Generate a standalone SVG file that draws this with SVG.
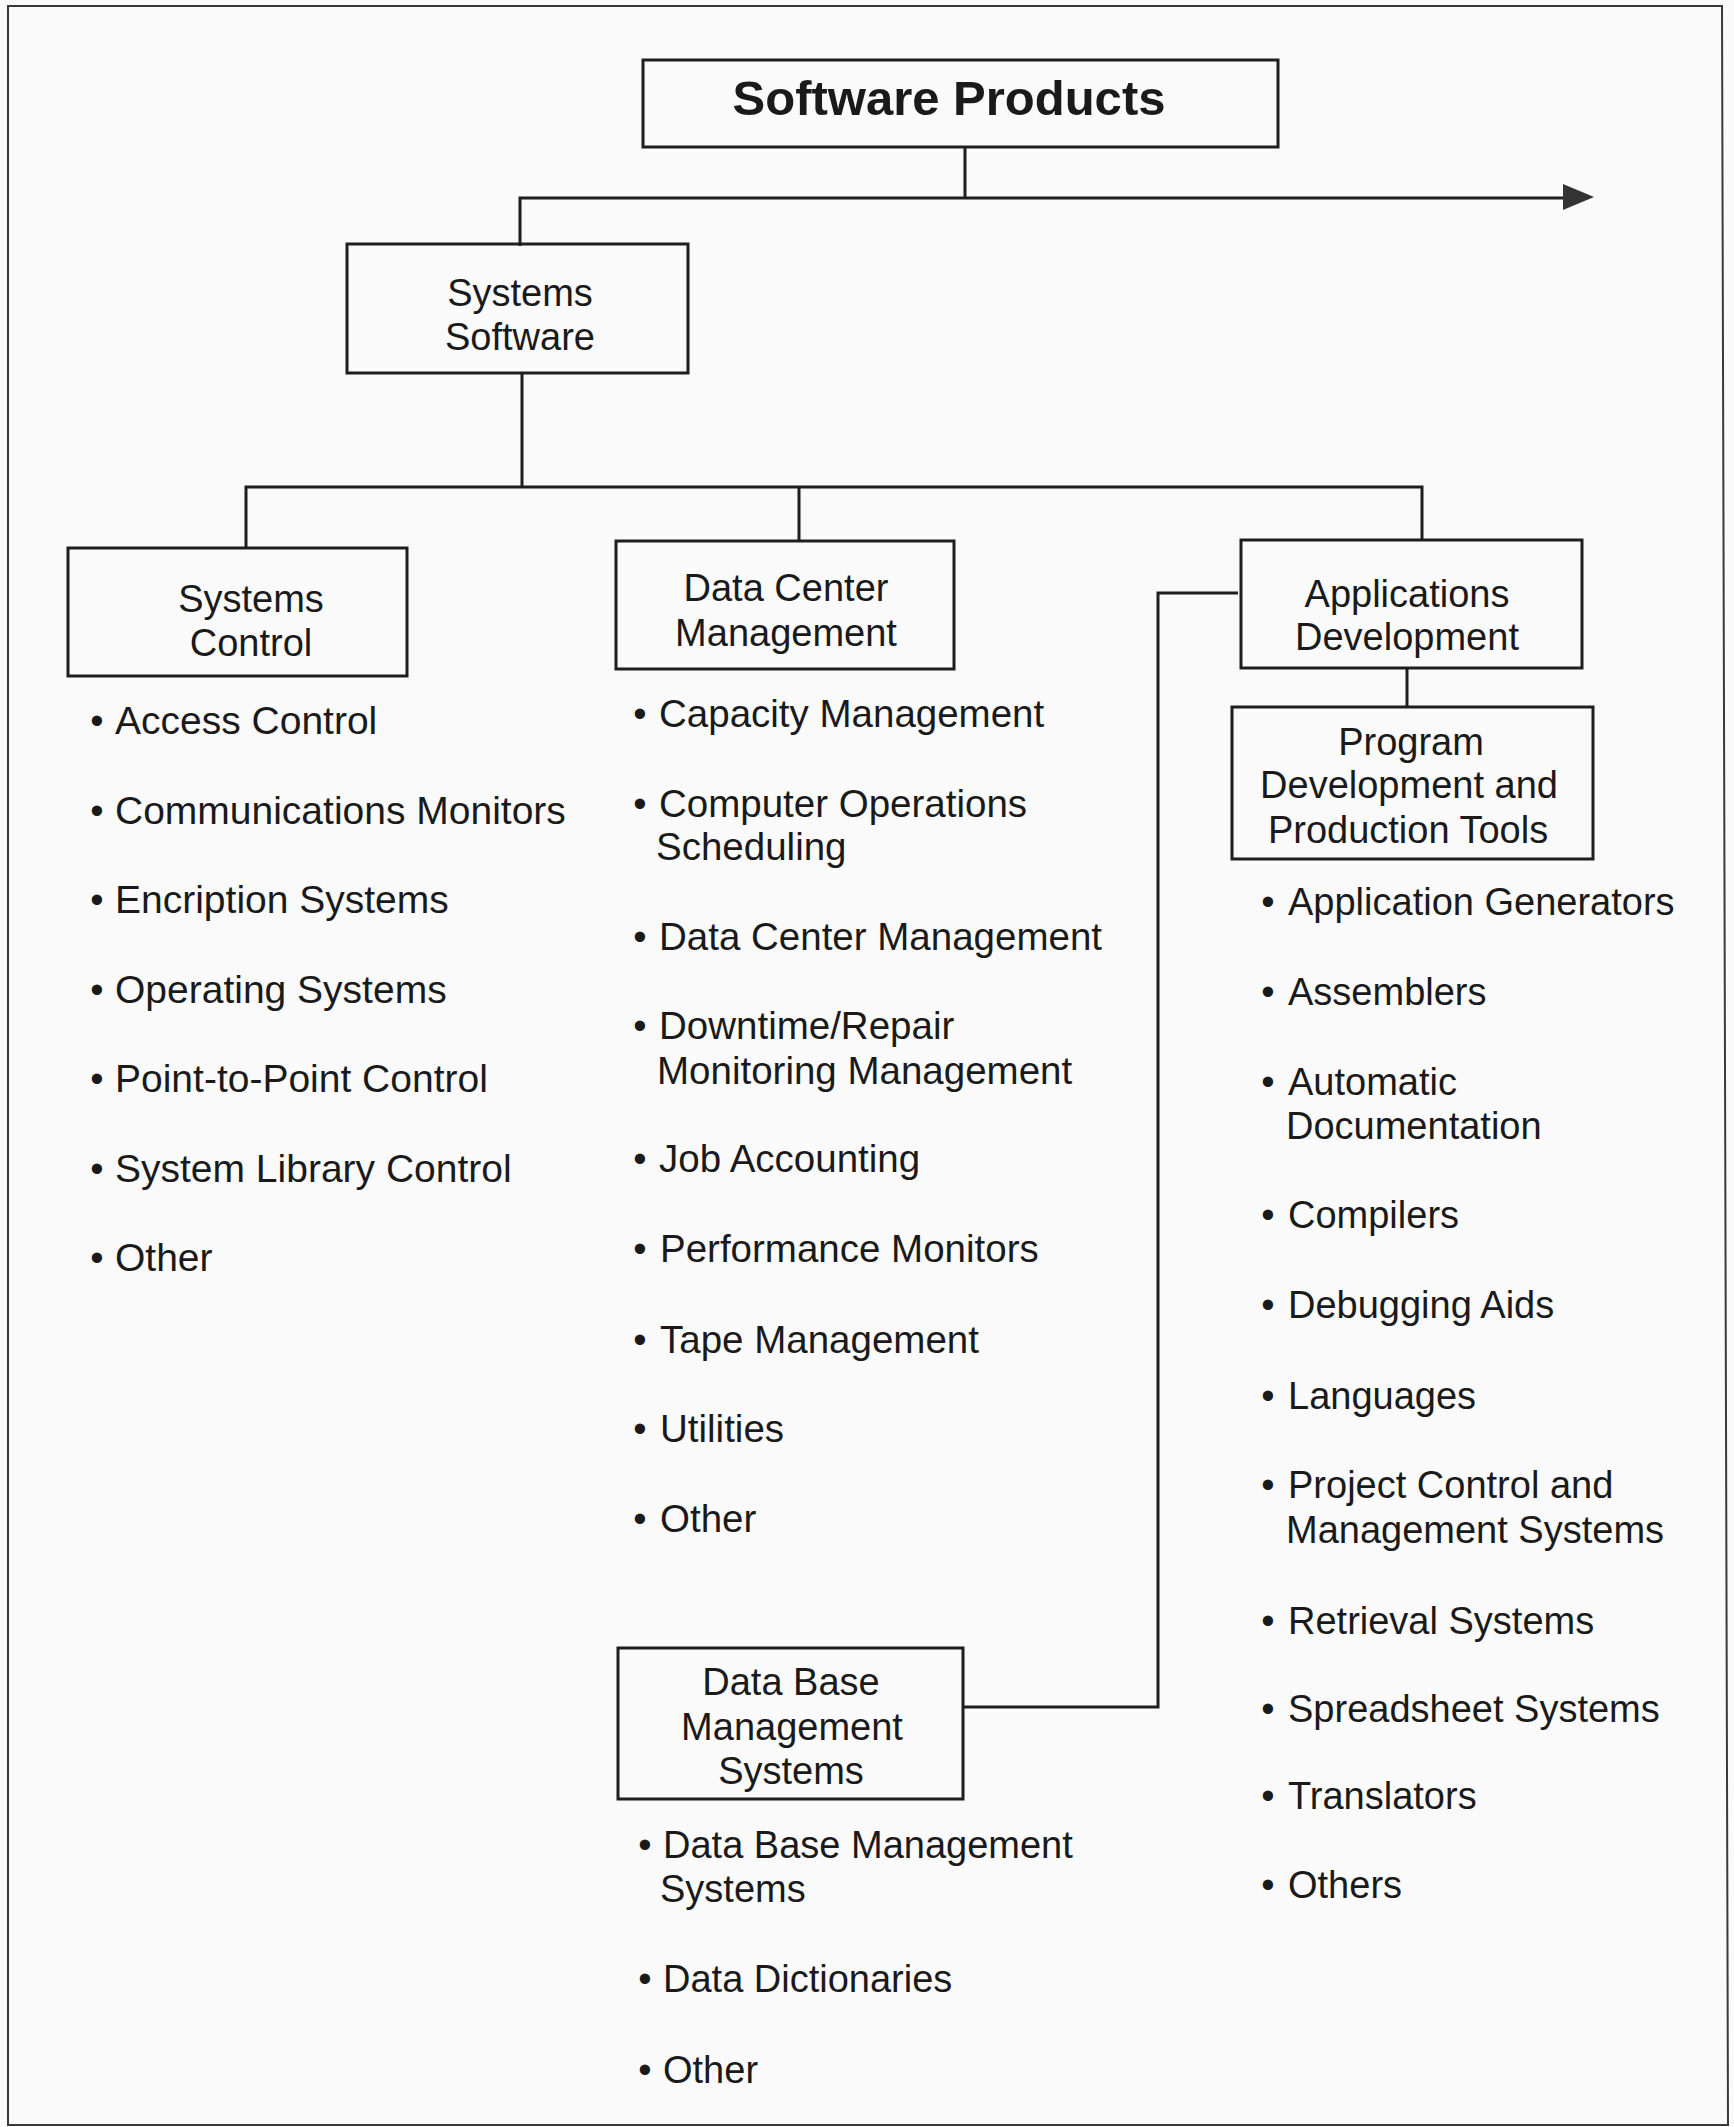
<svg xmlns="http://www.w3.org/2000/svg" width="1734" height="2127" viewBox="0 0 1734 2127">
<defs>
<style>
.box{fill:none;stroke:#1e1e1e;stroke-width:3}
.ln{fill:none;stroke:#1e1e1e;stroke-width:3}
.t{font-family:"Liberation Sans",Arial,sans-serif;font-size:38px;fill:#1a1a1a}
.c{text-anchor:middle}
.b{font-family:"Liberation Sans",Arial,sans-serif;font-size:38px;fill:#1a1a1a;text-anchor:middle}
.c1{font-size:39px}
.c2{font-size:38.5px}
.title{font-family:"Liberation Sans",Arial,sans-serif;font-size:49px;font-weight:bold;fill:#1a1a1a;text-anchor:middle}
</style>
</defs>
<rect width="1734" height="2127" fill="#fbfafb"/>
<path d="M8,6 L1722,6 L1728,2125 L8,2125 Z" fill="none" stroke="#3a3a3a" stroke-width="2"/>

<g id="connectors">
<path class="ln" d="M965,147 V198"/>
<path class="ln" d="M520,246 V198 H1565"/>
<polygon points="1563,184 1594,197 1563,210" fill="#333"/>
<path class="ln" d="M522,373 V487"/>
<path class="ln" d="M246,548 V487 H1422 V540"/>
<path class="ln" d="M799,487 V541"/>
<path class="ln" d="M1407,668 V707"/>
<path class="ln" d="M963,1707 H1158 V593 H1238"/>
</g>

<g id="software-products">
<rect class="box" x="643" y="60" width="635" height="87"/>
<text class="title" x="949" y="115">Software Products</text>
</g>

<g id="systems-software">
<rect class="box" x="347" y="244" width="341" height="129"/>
<text class="t c" x="520" y="306">Systems</text>
<text class="t c" x="520" y="350">Software</text>
</g>

<g id="systems-control">
<rect class="box" x="68" y="548" width="339" height="128"/>
<text class="t c" x="251" y="612">Systems</text>
<text class="t c" x="251" y="656">Control</text>
</g>

<g id="data-center-management">
<rect class="box" x="616" y="541" width="338" height="128"/>
<text class="t c" x="786" y="601">Data Center</text>
<text class="t c" x="786" y="646">Management</text>
</g>

<g id="applications-development">
<rect class="box" x="1241" y="540" width="341" height="128"/>
<text class="t c" x="1407" y="607">Applications</text>
<text class="t c" x="1407" y="650">Development</text>
</g>

<g id="program-development">
<rect class="box" x="1232" y="707" width="361" height="152"/>
<text class="t c" x="1411" y="755">Program</text>
<text class="t c" x="1409" y="798">Development and</text>
<text class="t c" x="1408" y="843">Production Tools</text>
</g>

<g id="data-base-management">
<rect class="box" x="618" y="1648" width="345" height="151"/>
<text class="t c" x="791" y="1695">Data Base</text>
<text class="t c" x="792" y="1740">Management</text>
<text class="t c" x="791" y="1784">Systems</text>
</g>

<g id="systems-control-items">
<text class="b" x="97" y="734">•</text><text class="t c1" x="115" y="734">Access Control</text>
<text class="b" x="97" y="824">•</text><text class="t c1" x="115" y="824">Communications Monitors</text>
<text class="b" x="97" y="913">•</text><text class="t c1" x="115" y="913">Encription Systems</text>
<text class="b" x="97" y="1003">•</text><text class="t c1" x="115" y="1003">Operating Systems</text>
<text class="b" x="97" y="1092">•</text><text class="t c1" x="115" y="1092">Point-to-Point Control</text>
<text class="b" x="97" y="1182">•</text><text class="t c1" x="115" y="1182">System Library Control</text>
<text class="b" x="97" y="1271">•</text><text class="t c1" x="115" y="1271">Other</text>
</g>

<g id="data-center-items">
<text class="b" x="640" y="727">•</text><text class="t c2" x="659" y="727">Capacity Management</text>
<text class="b" x="640" y="817">•</text><text class="t c2" x="659" y="817">Computer Operations</text>
<text class="t c2" x="656" y="860">Scheduling</text>
<text class="b" x="640" y="950">•</text><text class="t c2" x="659" y="950">Data Center Management</text>
<text class="b" x="640" y="1039">•</text><text class="t c2" x="659" y="1039">Downtime/Repair</text>
<text class="t c2" x="657" y="1084">Monitoring Management</text>
<text class="b" x="640" y="1172">•</text><text class="t c2" x="659" y="1172">Job Accounting</text>
<text class="b" x="640" y="1262">•</text><text class="t c2" x="660" y="1262">Performance Monitors</text>
<text class="b" x="640" y="1353">•</text><text class="t c2" x="660" y="1353">Tape Management</text>
<text class="b" x="640" y="1442">•</text><text class="t c2" x="660" y="1442">Utilities</text>
<text class="b" x="640" y="1532">•</text><text class="t c2" x="660" y="1532">Other</text>
</g>

<g id="program-tools-items">
<text class="b" x="1268" y="915">•</text><text class="t" x="1288" y="915">Application Generators</text>
<text class="b" x="1268" y="1005">•</text><text class="t" x="1288" y="1005">Assemblers</text>
<text class="b" x="1268" y="1095">•</text><text class="t" x="1288" y="1095">Automatic</text>
<text class="t" x="1286" y="1139">Documentation</text>
<text class="b" x="1268" y="1228">•</text><text class="t" x="1288" y="1228">Compilers</text>
<text class="b" x="1268" y="1318">•</text><text class="t" x="1288" y="1318">Debugging Aids</text>
<text class="b" x="1268" y="1409">•</text><text class="t" x="1288" y="1409">Languages</text>
<text class="b" x="1268" y="1498">•</text><text class="t" x="1288" y="1498">Project Control and</text>
<text class="t" x="1286" y="1543">Management Systems</text>
<text class="b" x="1268" y="1634">•</text><text class="t" x="1288" y="1634">Retrieval Systems</text>
<text class="b" x="1268" y="1722">•</text><text class="t" x="1288" y="1722">Spreadsheet Systems</text>
<text class="b" x="1268" y="1809">•</text><text class="t" x="1288" y="1809">Translators</text>
<text class="b" x="1268" y="1898">•</text><text class="t" x="1288" y="1898">Others</text>
</g>

<g id="data-base-items">
<text class="b" x="645" y="1858">•</text><text class="t" x="663" y="1858">Data Base Management</text>
<text class="t" x="660" y="1902">Systems</text>
<text class="b" x="645" y="1992">•</text><text class="t" x="663" y="1992">Data Dictionaries</text>
<text class="b" x="645" y="2083">•</text><text class="t" x="663" y="2083">Other</text>
</g>
</svg>
